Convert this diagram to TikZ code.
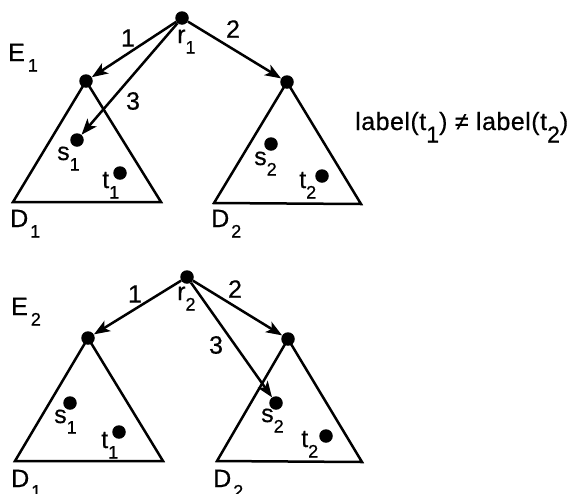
\documentclass[tikz,border=0pt]{standalone}
\usepackage{fontspec}
\setmainfont{Liberation Sans}[FakeBold=0.5,LetterSpace=2]
\usetikzlibrary{arrows.meta}
\newcommand\sbs[1]{\raisebox{-0.42em}{\fontsize{18}{18}\selectfont #1}}
\newcommand\sbl[1]{\raisebox{-0.5em}{\fontsize{23}{23}\selectfont #1}}
\begin{document}
\begin{tikzpicture}[x=1pt,y=-1pt,
  dot/.style={circle,fill=black,inner sep=0pt,minimum size=13.5pt},
  edge/.style={line width=2.5pt,-{Stealth[length=16pt,width=12pt,inset=4pt]}},
  tri/.style={line width=2.5pt,line join=miter},
  lbl/.style={inner sep=0pt,anchor=base west,font=\fontsize{25}{25}\selectfont},
  num/.style={inner sep=0pt,font=\fontsize{25}{25}\selectfont}]
\useasboundingbox (0,0) rectangle (577,493);
% ---------- top diagram ----------
\coordinate (a1l) at (13,202);
\coordinate (a1r) at (161,202);
\coordinate (b1l) at (214,203);
\coordinate (b1r) at (361,204);
\node[dot] (r1) at (182,18) {};
\node[dot] (a1) at (86,81) {};
\node[dot] (b1) at (287,82) {};
\node[dot] (s1) at (77,140) {};
\node[dot] (t1) at (120,173) {};
\node[dot] (s2) at (271,144) {};
\node[dot] (t2) at (322,176) {};
\draw[tri] (a1.center) -- (a1l) -- (a1r) -- cycle;
\draw[tri] (b1.center) -- (b1l) -- (b1r) -- cycle;
\draw[edge] (r1) -- (a1);
\draw[edge] (r1) -- (b1);
\draw[edge] (r1) -- (s1);
\node[num] (n1a) at (128,38) {1};
\node[num] (n2a) at (233,29) {2};
\node[num] (n3a) at (133,101) {3};
\node[lbl] (E1) at (8,61) {E\kern3pt\sbs{1}};
\node[lbl] (r1l) at (177,43) {r\sbs{1}};
\node[lbl] (s1l) at (57,160) {s\sbs{1}};
\node[lbl] (t1l) at (102,188) {t\sbs{1}};
\node[lbl] (s2l) at (254,165) {s\sbs{2}};
\node[lbl] (t2l) at (299,188) {t\sbs{2}};
\node[lbl] (D1a) at (10,227) {D\kern2pt\sbs{1}};
\node[lbl] (D2a) at (211,227) {D\kern2pt\sbs{2}};
\node[lbl] (cond) at (355,130) {label(t\sbl{1}) ≠ label(t\sbl{2})};
% ---------- bottom diagram ----------
\coordinate (a2l) at (15,461);
\coordinate (a2r) at (163,461);
\coordinate (b2l) at (217,461);
\coordinate (b2r) at (362,462);
\node[dot] (r2) at (187,277) {};
\node[dot] (a2) at (88,338) {};
\node[dot] (b2) at (288,339) {};
\node[dot] (s1b) at (70,403) {};
\node[dot] (t1b) at (119,432) {};
\node[dot] (s2b) at (276,403) {};
\node[dot] (t2b) at (326,436) {};
\draw[tri] (a2.center) -- (a2l) -- (a2r) -- cycle;
\draw[tri] (b2.center) -- (b2l) -- (b2r) -- cycle;
\draw[edge] (r2) -- (a2);
\draw[edge] (r2) -- (b2);
\draw[edge] (r2) -- (s2b);
\node[num] (n1b) at (135,294) {1};
\node[num] (n2b) at (235,289) {2};
\node[num] (n3b) at (216,345) {3};
\node[lbl] (E2) at (11,315) {E\kern3pt\sbs{2}};
\node[lbl] (r2l) at (177,300) {r\sbs{2}};
\node[lbl] (s1bl) at (54,423) {s\sbs{1}};
\node[lbl] (t1bl) at (101,448) {t\sbs{1}};
\node[lbl] (s2bl) at (261,422) {s\sbs{2}};
\node[lbl] (t2bl) at (301,447) {t\sbs{2}};
\node[lbl] (D1b) at (11,487) {D\kern2pt\sbs{1}};
\node[lbl] (D2b) at (213,487) {D\kern2pt\sbs{2}};
\end{tikzpicture}
\end{document}
